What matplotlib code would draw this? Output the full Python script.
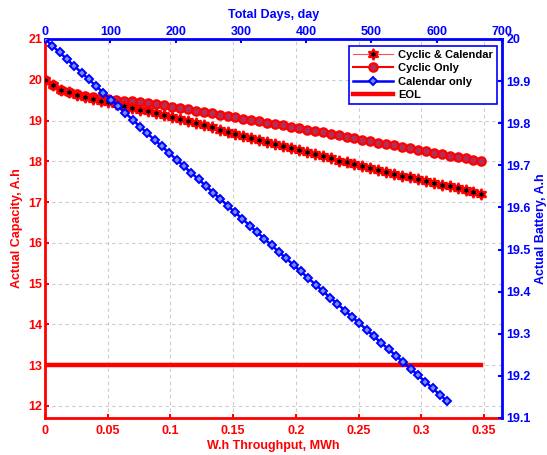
import matplotlib
matplotlib.use("Agg")
import matplotlib.pyplot as plt
import numpy as np

plt.rcParams['font.family'] = ['Liberation Sans', 'DejaVu Sans']
plt.rcParams['font.weight'] = 'bold'

# ---------------- data ----------------
throughput_end = 0.348          # MWh, last sample of the cyclic runs
n_cyc = 56
throughput = np.linspace(0, throughput_end, n_cyc)

cyclic_calendar = [20.00, 19.87, 19.76, 19.69, 19.63, 19.58, 19.53, 19.49, 19.45, 19.41,
                   19.36, 19.32, 19.27, 19.23, 19.18, 19.13, 19.08, 19.03, 18.98, 18.93,
                   18.88, 18.83, 18.78, 18.72, 18.67, 18.62, 18.57, 18.52, 18.47, 18.42,
                   18.37, 18.32, 18.27, 18.22, 18.17, 18.12, 18.07, 18.02, 17.98, 17.93,
                   17.88, 17.84, 17.79, 17.74, 17.69, 17.65, 17.61, 17.56, 17.52, 17.47,
                   17.43, 17.39, 17.34, 17.30, 17.25, 17.21]

cyclic_only = [20.00, 19.86, 19.76, 19.70, 19.65, 19.61, 19.58, 19.55, 19.53, 19.51,
               19.49, 19.47, 19.45, 19.43, 19.41, 19.38, 19.34, 19.31, 19.28, 19.24,
               19.21, 19.18, 19.14, 19.11, 19.08, 19.04, 19.01, 18.98, 18.94, 18.91,
               18.88, 18.85, 18.81, 18.78, 18.75, 18.71, 18.68, 18.64, 18.60, 18.57,
               18.53, 18.50, 18.46, 18.43, 18.39, 18.36, 18.32, 18.28, 18.25, 18.21,
               18.18, 18.14, 18.11, 18.07, 18.04, 18.00]

days_end = 616
n_cal = 56
total_days = np.linspace(0, days_end, n_cal)
calendar_only = [20.000, 19.984, 19.968, 19.952, 19.936, 19.920, 19.904, 19.888, 19.872, 19.856,
                 19.840, 19.824, 19.808, 19.792, 19.776, 19.760, 19.745, 19.729, 19.713, 19.698,
                 19.682, 19.667, 19.651, 19.635, 19.620, 19.604, 19.588, 19.573, 19.557, 19.541,
                 19.526, 19.510, 19.494, 19.479, 19.463, 19.448, 19.432, 19.417, 19.401, 19.386,
                 19.371, 19.355, 19.340, 19.325, 19.309, 19.294, 19.278, 19.263, 19.248, 19.232,
                 19.217, 19.202, 19.186, 19.171, 19.155, 19.140]

eol_level = 13

x_ticks = [0, 0.05, 0.1, 0.15, 0.2, 0.25, 0.3, 0.35]
x_ticklabels = ['0', '0.05', '0.1', '0.15', '0.2', '0.25', '0.3', '0.35']
y_ticks = [12, 13, 14, 15, 16, 17, 18, 19, 20, 21]
top_ticks = [0, 100, 200, 300, 400, 500, 600, 700]
right_ticks = [19.1, 19.2, 19.3, 19.4, 19.5, 19.6, 19.7, 19.8, 19.9, 20.0]
right_ticklabels = ['19.1', '19.2', '19.3', '19.4', '19.5', '19.6', '19.7', '19.8', '19.9', '20']

# ---------------- figure ----------------
W, H = 547, 455
fig = plt.figure(figsize=(W / 100, H / 100), dpi=100)
rect = [45 / W, (H - 418) / H, 457 / W, 379 / H]
ax = fig.add_axes(rect)
ax2 = fig.add_axes(rect, frameon=True)
ax2.patch.set_visible(False)

RED = '#ff0000'
BLUE = '#0000ff'
FS = 9

# primary axes (bottom / left)
ax.grid(True, linestyle=(0, (3, 3)), color='#cccccc', linewidth=0.8)
ax.set_axisbelow(True)

h_eol, = ax.plot([throughput[0], throughput[-1]], [eol_level, eol_level],
                 color=RED, linewidth=3.2, label='EOL', zorder=2)
h_co, = ax.plot(throughput, cyclic_only, color=RED, linewidth=1.5, marker='o',
                markersize=6, markerfacecolor='#b0305a', markeredgecolor=RED,
                markeredgewidth=1.6, label='Cyclic Only', zorder=3)
h_cc, = ax.plot(throughput, cyclic_calendar, color='#ff5050', linewidth=0.8,
                marker=(6, 1, 0), markersize=8, markerfacecolor='black',
                markeredgecolor=RED, markeredgewidth=1.4,
                label='Cyclic & Calendar', zorder=4)

ax.set_xlim(0, 0.3644)
ax.set_ylim(11.705, 21)
ax.set_xticks(x_ticks)
ax.set_xticklabels(x_ticklabels)
ax.set_yticks(y_ticks)
ax.set_yticklabels([str(v) for v in y_ticks])
ax.tick_params(axis='both', direction='in', length=3.2, width=1.5, colors=RED,
               labelsize=FS, pad=3)
ax.tick_params(axis='x', pad=5)
ax.tick_params(axis='y', pad=2)
for lab in ax.get_xticklabels() + ax.get_yticklabels():
    lab.set_fontweight('bold')
ax.set_xlabel('W.h Throughput, MWh', color=RED, fontsize=FS, fontweight='bold', labelpad=2)
ax.set_ylabel('Actual Capacity, A.h', color=RED, fontsize=FS, fontweight='bold', labelpad=4)
for s in ['left', 'bottom']:
    ax.spines[s].set_color(RED)
    ax.spines[s].set_linewidth(2)
for s in ['top', 'right']:
    ax.spines[s].set_visible(False)

# secondary axes (top / right)
h_cal, = ax2.plot(total_days, calendar_only, color=BLUE, linewidth=1.8, marker='D',
                  markersize=4.2, markerfacecolor='#7090ff', markeredgecolor=BLUE,
                  markeredgewidth=1.4, label='Calendar only', zorder=3)
ax2.set_xlim(0, 700)
ax2.set_ylim(19.1, 20)
ax2.xaxis.tick_top()
ax2.xaxis.set_label_position('top')
ax2.yaxis.tick_right()
ax2.yaxis.set_label_position('right')
ax2.set_xticks(top_ticks)
ax2.set_xticklabels([str(v) for v in top_ticks])
ax2.set_yticks(right_ticks)
ax2.set_yticklabels(right_ticklabels)
ax2.tick_params(axis='both', direction='in', length=3.2, width=1.5, colors=BLUE,
                labelsize=FS)
ax2.tick_params(axis='x', pad=0.5)
ax2.tick_params(axis='y', pad=3)
for lab in ax2.get_xticklabels() + ax2.get_yticklabels():
    lab.set_fontweight('bold')
ax2.set_xlabel('Total Days, day', color=BLUE, fontsize=FS, fontweight='bold', labelpad=6)
ax2.set_ylabel('Actual Battery, A.h', color=BLUE, fontsize=FS, fontweight='bold', labelpad=3)
for s in ['top', 'right']:
    ax2.spines[s].set_color(BLUE)
    ax2.spines[s].set_linewidth(2)
for s in ['left', 'bottom']:
    ax2.spines[s].set_visible(False)

leg = ax2.legend(handles=[h_cc, h_co, h_cal, h_eol], loc='upper right',
                 bbox_to_anchor=(497 / W, 1 - 46 / H), bbox_transform=fig.transFigure,
                 prop={'family': 'Liberation Sans', 'weight': 'bold', 'size': 8},
                 fancybox=False, shadow=False, framealpha=1, edgecolor=BLUE,
                 handlelength=3.6, handletextpad=0.5, labelspacing=0.3,
                 borderpad=0.35, borderaxespad=0)
leg.get_frame().set_linewidth(1.2)

fig.savefig('out.png', dpi=100)
